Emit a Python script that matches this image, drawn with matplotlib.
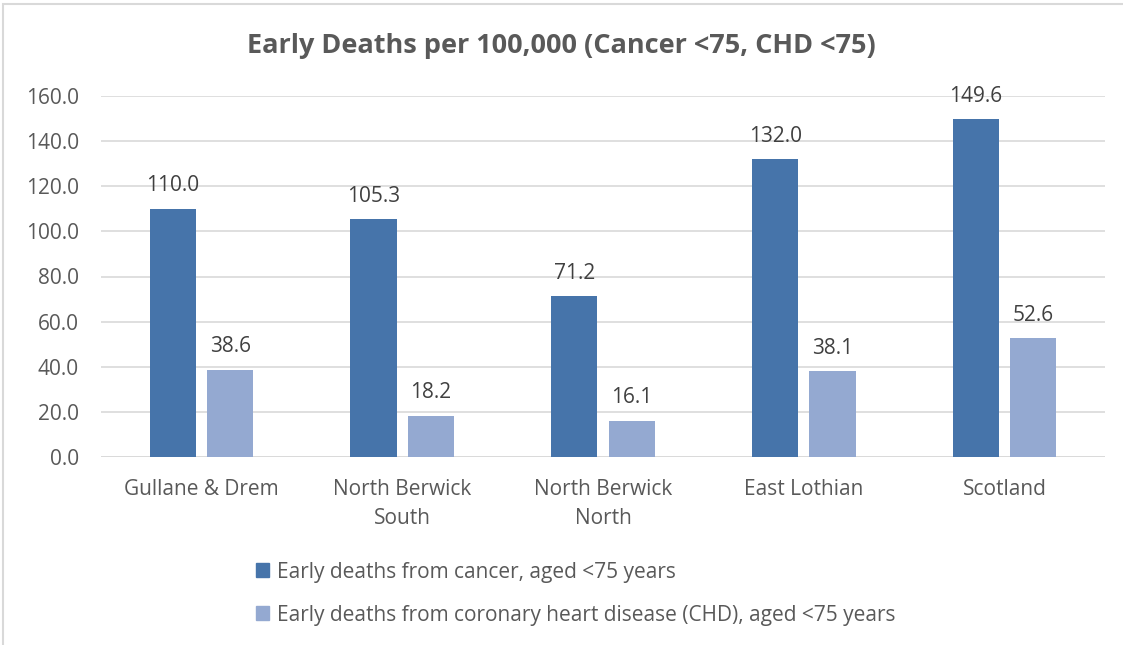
import matplotlib
matplotlib.use("Agg")
from matplotlib import pyplot as plt
from matplotlib.patches import Rectangle, Patch
import numpy as np

areas = ["Gullane & Drem", "North Berwick\nSouth", "North Berwick\nNorth", "East Lothian", "Scotland"]
cancer = [110.0, 105.3, 71.2, 132.0, 149.6]
chd = [38.6, 18.2, 16.1, 38.1, 52.6]
series_names = ["Early deaths from cancer, aged <75 years",
                "Early deaths from coronary heart disease (CHD), aged <75 years"]
yticks = [0, 20, 40, 60, 80, 100, 120, 140, 160]

c_dark = "#4674aa"
c_light = "#94a9d1"
txt = "#404040"
grey = "#595959"

plt.rcParams['font.family'] = ['Open Sans', 'DejaVu Sans']

fig = plt.figure(figsize=(11.23, 6.45), dpi=100)
ax = fig.add_axes([101 / 1123, 1 - 457 / 645, 1004 / 1123, 361 / 645])

x = np.arange(len(areas))
w = 0.23
off = 0.143
b1 = ax.bar(x - off, cancer, w, color=c_dark, zorder=3)
b2 = ax.bar(x + off, chd, w, color=c_light, zorder=3)

for bars, vals in ((b1, cancer), (b2, chd)):
    for r, v in zip(bars, vals):
        ax.annotate("%.1f" % v, (r.get_x() + r.get_width() / 2, v), xytext=(0, 9),
                    textcoords="offset points", ha="center", va="bottom",
                    fontsize=15, color=txt)

ax.set_xlim(-0.5, len(areas) - 0.5)
ax.set_ylim(0, 160)
ax.set_yticks(yticks)
ax.set_yticklabels(["%.1f" % t for t in yticks], fontsize=15, color=grey)
ax.set_xticks(x)
ax.set_xticklabels(areas, fontsize=15, color=grey, linespacing=1.5)
ax.tick_params(length=0)
ax.tick_params(axis="x", pad=16)
ax.tick_params(axis="y", pad=16)
ax.grid(axis="y", color="#d9d9d9", lw=1.2, zorder=0)
for s in ax.spines.values():
    s.set_visible(False)
ax.axhline(0, color="#d9d9d9", lw=1.2, zorder=1)

fig.text(0.5, 1 - 46 / 645, "Early Deaths per 100,000 (Cancer <75, CHD <75)",
         ha="center", va="center", fontsize=19.5, fontweight="bold", color=grey)

handles = [Patch(color=c_dark), Patch(color=c_light)]
fig.legend(handles, series_names, loc="upper left", bbox_to_anchor=(237 / 1123, 1 - 543 / 645),
           frameon=False, fontsize=15, handlelength=0.65, handleheight=0.65,
           handletextpad=0.35, labelspacing=1.05, labelcolor=grey)

# chart border (cut off at right and bottom in the reference)
fig.patches.append(Rectangle((3 / 1123, -0.05), 1.1, 1 - 4 / 645 + 0.05,
                             transform=fig.transFigure, fill=False,
                             edgecolor="#d9d9d9", lw=1.5))

fig.savefig("out.png", dpi=100)
